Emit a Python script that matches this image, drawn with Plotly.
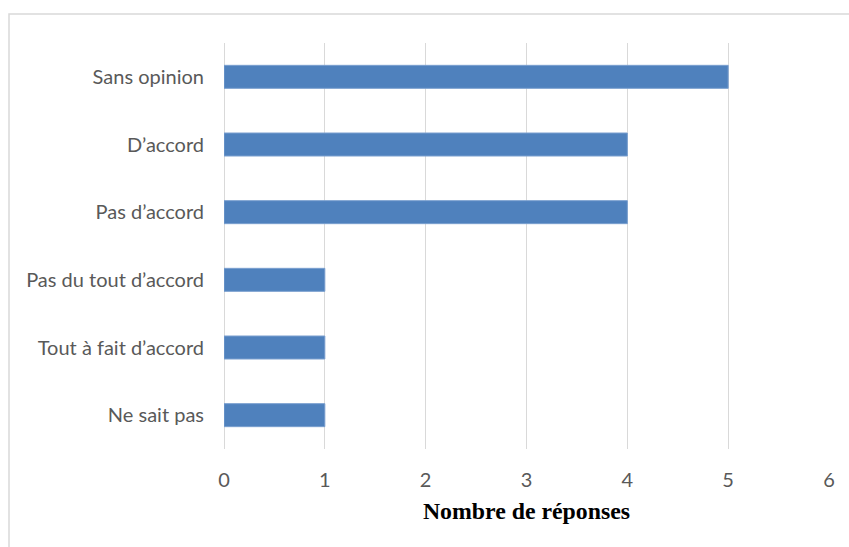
import plotly.graph_objects as go

categories = ["Sans opinion", "D\u2019accord", "Pas d\u2019accord", "Pas du tout d\u2019accord",
              "Tout \u00e0 fait d\u2019accord", "Ne sait pas"]
values = [5, 4, 4, 1, 1, 1]
x_ticks = [0, 1, 2, 3, 4, 5, 6]

W, H = 849, 547
L, R, T, B = 224, 20, 43, 98
pw, ph = W - L - R, H - T - B

fig = go.Figure(go.Bar(
    y=categories, x=values, orientation="h",
    marker=dict(color="#4f81bd", line=dict(color="#7a9fcf", width=1)),
))

fig.update_layout(
    width=W, height=H,
    margin=dict(l=L, r=R, t=T, b=B),
    paper_bgcolor="white", plot_bgcolor="white",
    bargap=0.66,
    showlegend=False,
    font=dict(family="Lato", color="#595959", size=20),
    xaxis=dict(
        range=[0, 6], tickvals=x_ticks, showgrid=True, gridcolor="#d9d9d9", gridwidth=1,
        zeroline=True, zerolinecolor="#d9d9d9", zerolinewidth=1,
        showline=False, ticks="", ticklabelstandoff=17,
        tickfont=dict(size=20, color="#595959"),
        title=dict(text="<b>Nombre de réponses</b>", font=dict(family="Liberation Serif", size=23.8, color="black"), standoff=12),
    ),
    yaxis=dict(
        categoryorder="array", categoryarray=categories[::-1],
        showgrid=False, showline=False, ticks="", ticklabelstandoff=19,
        tickfont=dict(size=20, color="#595959"),
    ),
    shapes=[dict(
        type="rect", xref="paper", yref="paper",
        x0=(9 - L) / pw, x1=(W + 10 - L) / pw,
        y0=(H - B - (H + 10)) / ph, y1=1 + (T - 14) / ph,
        line=dict(color="#d9d9d9", width=1.5), fillcolor="rgba(0,0,0,0)", layer="below",
    )],
)

fig.write_html("out.html", config={"displayModeBar": False},
               post_script="document.body.style.margin='0';document.body.style.overflow='hidden';")
